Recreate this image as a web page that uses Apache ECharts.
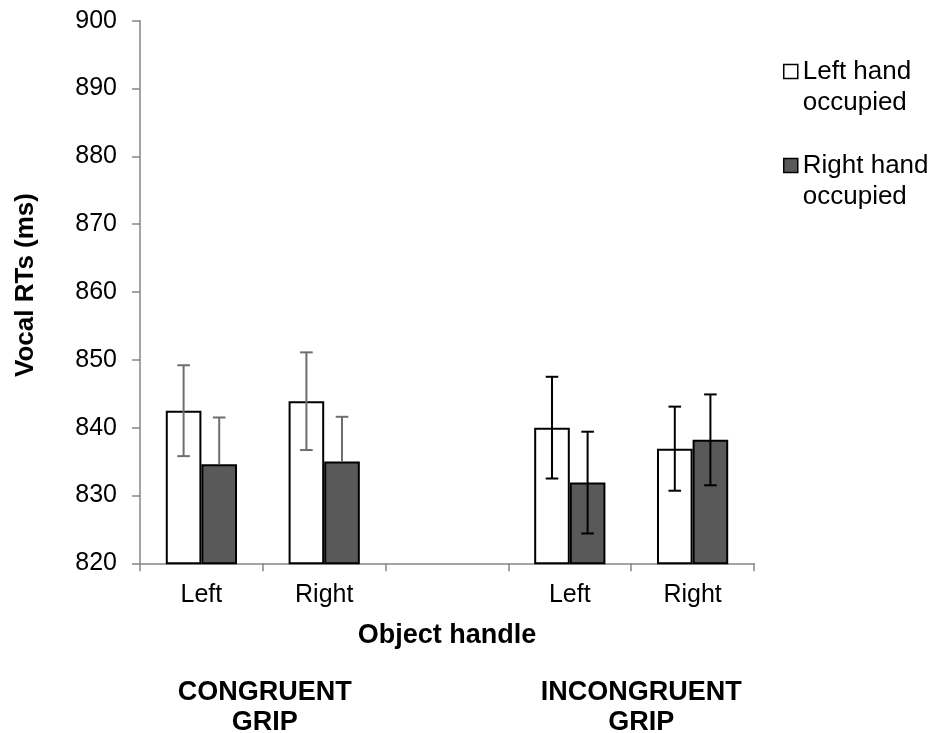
<!DOCTYPE html>
<html>
<head>
<meta charset="utf-8">
<script src="https://cdn.jsdelivr.net/npm/echarts@6/dist/echarts.min.js"></script>
<style>
  html, body { margin: 0; padding: 0; background: #ffffff; }
  #chart { width: 935px; height: 733px; }
</style>
</head>
<body>
<div id="chart"></div>
<script>
// Object handle position within each grip condition (blank slot separates the two groups)
const categories = ['Left', 'Right', '', 'Left', 'Right'];
const gripGroups = ['CONGRUENT', 'CONGRUENT', null, 'INCONGRUENT', 'INCONGRUENT'];
const gripLabels = ['CONGRUENT\nGRIP', 'INCONGRUENT\nGRIP'];

// Mean vocal RTs (ms) and error bar half-widths
const leftHandOccupied = [842.5, 843.9, null, 840.0, 836.9];
const leftHandErr = [6.7, 7.2, null, 7.5, 6.2];
const rightHandOccupied = [834.6, 835.0, null, 831.9, 838.2];
const rightHandErr = [6.9, 6.6, null, 7.5, 6.7];

const seriesNames = ['Left hand occupied', 'Right hand occupied'];
const yTicks = { min: 820, max: 900, interval: 10 };

const FONT = '"Liberation Sans", Arial, sans-serif';
const AXIS_GREY = '#868686';
const DARK_FILL = '#595959';

const chart = echarts.init(document.getElementById('chart'), null, { renderer: 'canvas' });

function errorData(means, errs) {
  const out = [];
  means.forEach((m, i) => {
    if (m != null && errs[i] != null) out.push([i, m, errs[i]]);
  });
  return out;
}

// Whiskers sit over the centre of their bar: each bar takes 29% of the band
function makeErrorRender(side, isDarkSeries) {
  return function (params, api) {
    const cat = api.value(0);
    const mean = api.value(1);
    const err = api.value(2);
    const band = api.size([1, 0])[0];
    const x = api.coord([cat, mean])[0] + side * band * 0.145;
    const yTop = api.coord([cat, mean + err])[1];
    const yBot = api.coord([cat, mean - err])[1];
    const yMean = api.coord([cat, mean])[1];
    const congruent = gripGroups[cat] === 'CONGRUENT';
    const color = congruent ? '#6e6e6e' : '#000000';
    // lower whisker of the congruent dark bars stays hidden inside the bar
    const yLow = (congruent && isDarkSeries) ? yMean : yBot;
    const cap = 6.3;
    const style = { stroke: color, lineWidth: 2 };
    const children = [
      { type: 'line', shape: { x1: x, y1: yTop, x2: x, y2: yLow }, style },
      { type: 'line', shape: { x1: x - cap, y1: yTop, x2: x + cap, y2: yTop }, style }
    ];
    if (yLow === yBot) {
      children.push({ type: 'line', shape: { x1: x - cap, y1: yBot, x2: x + cap, y2: yBot }, style });
    }
    return { type: 'group', children };
  };
}

const option = {
  backgroundColor: '#ffffff',
  animation: false,
  textStyle: { fontFamily: FONT, color: '#000' },
  grid: { left: 140, right: 181, top: 20.7, bottom: 169.7 },
  legend: {
    orient: 'vertical',
    left: 778,
    top: 20,
    itemWidth: 14,
    itemHeight: 14,
    itemGap: 1,
    icon: 'rect',
    selectedMode: false,
    // a blank first line keeps the icon level with the first line of the label
    formatter: function (name) {
      return ' \n' + name.replace(' hand ', ' hand\n');
    },
    textStyle: {
      fontFamily: FONT,
      fontSize: 26,
      lineHeight: 31,
      color: '#000'
    },
    data: [
      { name: seriesNames[0], itemStyle: { color: '#ffffff', borderColor: '#000', borderWidth: 1.5 } },
      { name: seriesNames[1], itemStyle: { color: DARK_FILL, borderColor: '#000', borderWidth: 1.5 } }
    ]
  },
  xAxis: {
    type: 'category',
    data: categories,
    name: 'Object handle',
    nameLocation: 'middle',
    nameGap: 59,
    nameTextStyle: { fontFamily: FONT, fontSize: 27, fontWeight: 'bold', color: '#000' },
    axisLine: { lineStyle: { color: AXIS_GREY, width: 1.5 } },
    axisTick: { show: true, alignWithLabel: false, interval: 0, length: 8, lineStyle: { color: AXIS_GREY, width: 1.5 } },
    axisLabel: { interval: 0, margin: 19, fontFamily: FONT, fontSize: 25, color: '#000' },
    splitLine: { show: false }
  },
  yAxis: {
    type: 'value',
    min: yTicks.min,
    max: yTicks.max,
    interval: yTicks.interval,
    name: 'Vocal RTs (ms)',
    nameLocation: 'middle',
    nameRotate: 90,
    nameGap: 101,
    nameTextStyle: { fontFamily: FONT, fontSize: 26, fontWeight: 'bold', color: '#000', padding: [0, 0, 0, 14] },
    axisLine: { show: true, lineStyle: { color: AXIS_GREY, width: 1.5 } },
    axisTick: { show: true, length: 8, lineStyle: { color: AXIS_GREY, width: 1.5 } },
    axisLabel: { margin: 23, fontFamily: FONT, fontSize: 25, color: '#000' },
    splitLine: { show: false }
  },
  series: [
    {
      name: seriesNames[0],
      type: 'bar',
      data: leftHandOccupied,
      barGap: '0%',
      barCategoryGap: '42%',
      itemStyle: { color: '#ffffff', borderColor: '#000', borderWidth: 2 },
      z: 2
    },
    {
      name: seriesNames[1],
      type: 'bar',
      data: rightHandOccupied,
      barGap: '0%',
      barCategoryGap: '42%',
      itemStyle: { color: DARK_FILL, borderColor: '#000', borderWidth: 2 },
      z: 2
    },
    {
      type: 'custom',
      name: 'err-left',
      data: errorData(leftHandOccupied, leftHandErr),
      renderItem: makeErrorRender(-1, false),
      encode: { x: 0, y: 1 },
      z: 5,
      silent: true
    },
    {
      type: 'custom',
      name: 'err-right',
      data: errorData(rightHandOccupied, rightHandErr),
      renderItem: makeErrorRender(1, true),
      encode: { x: 0, y: 1 },
      z: 5,
      silent: true
    }
  ]
};

chart.setOption(option);

// Grip condition captions, centred under each pair of handle categories
function placeGripLabels() {
  const px = i => chart.convertToPixel({ xAxisIndex: 0 }, i);
  const centres = [
    (px(0) + px(1)) / 2 + 2,
    (px(3) + px(4)) / 2 + 10
  ];
  chart.setOption({
    graphic: gripLabels.map((txt, k) => ({
      type: 'text',
      x: centres[k],
      y: 708,
      style: {
        text: txt,
        fontFamily: FONT,
        fontSize: 27,
        fontWeight: 'bold',
        lineHeight: 30,
        fill: '#000',
        align: 'center',
        verticalAlign: 'middle'
      }
    }))
  });
}
placeGripLabels();
</script>
</body>
</html>
